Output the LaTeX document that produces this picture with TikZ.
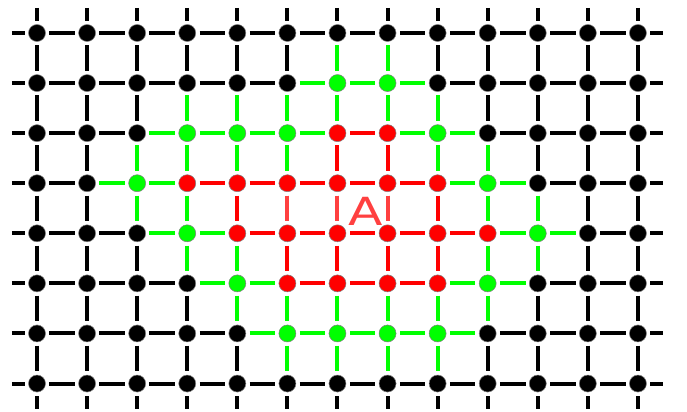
\documentclass[tikz,border=0pt]{standalone}
\usepackage{fontspec}
\newfontfamily\labelfont{DejaVu Sans}
\definecolor{lvl0}{RGB}{0,0,0}
\definecolor{lvl1}{RGB}{0,255,0}
\definecolor{lvl2}{RGB}{255,0,0}
\definecolor{lightred}{RGB}{255,64,64}
% level of every site, row by row (0 black, 1 green, 2 red)
\def\levels{{0,0,0,0,0,0,0,0,0,0,0,0,0,
             0,0,0,0,0,0,1,1,0,0,0,0,0,
             0,0,0,1,1,1,2,2,1,0,0,0,0,
             0,0,1,2,2,2,2,2,2,1,0,0,0,
             0,0,0,1,2,2,2,2,2,2,1,0,0,
             0,0,0,0,1,2,2,2,2,1,0,0,0,
             0,0,0,0,0,1,1,1,1,0,0,0,0,
             0,0,0,0,0,0,0,0,0,0,0,0,0}}
\tikzset{
  site/.style={circle,draw=gray,line width=0.3pt,minimum size=0.34cm,inner sep=0pt},
  link/.style={line width=2.3pt,shorten <=0.07cm,shorten >=0.07cm},
  stub/.style={link,shorten <=0pt}
}
\begin{document}
\begin{tikzpicture}
  \useasboundingbox (-0.739,0.659) rectangle (12.98,-7.564);
  % sites
  \foreach \r in {0,...,7}
    \foreach \c in {0,...,12}{
      \pgfmathtruncatemacro{\lv}{\levels[13*\r+\c]}
      \node[site,fill=lvl\lv] (n-\c-\r) at (\c,-\r) {};
    }
  % horizontal links
  \foreach \r in {0,...,7}
    \foreach \c in {0,...,11}{
      \pgfmathtruncatemacro{\nx}{\c+1}
      \pgfmathtruncatemacro{\la}{\levels[13*\r+\c]}
      \pgfmathtruncatemacro{\lb}{\levels[13*\r+\c+1]}
      \ifnum\la=\lb \edef\lc{\la}\else \def\lc{1}\fi
      \draw[link,lvl\lc] (n-\c-\r) -- (n-\nx-\r);
    }
  % vertical links
  \foreach \c in {0,...,12}
    \foreach \r in {0,...,6}{
      \pgfmathtruncatemacro{\ny}{\r+1}
      \pgfmathtruncatemacro{\la}{\levels[13*\r+\c]}
      \pgfmathtruncatemacro{\lb}{\levels[13*\r+13+\c]}
      \ifnum\la=\lb \edef\lc{\la}\else \def\lc{1}\fi
      \draw[link,lvl\lc] (n-\c-\r) -- (n-\c-\ny);
    }
  % half links at the border
  \foreach \r in {0,...,7}{
    \coordinate (w-\r) at (-0.5,-\r);
    \coordinate (e-\r) at (12.5,-\r);
    \draw[stub] (w-\r) -- (n-0-\r);
    \draw[stub] (e-\r) -- (n-12-\r);
  }
  \foreach \c in {0,...,12}{
    \coordinate (t-\c) at (\c,0.5);
    \coordinate (b-\c) at (\c,-7.5);
    \draw[stub] (t-\c) -- (n-\c-0);
    \draw[stub] (b-\c) -- (n-\c-7);
  }
  % links of A
  \foreach \c in {5,6,7}
    \draw[link,lightred] (n-\c-3) -- (n-\c-4);
  \node[text=lightred,font=\labelfont\fontsize{22}{22}\selectfont,xscale=1.3,inner sep=0pt] (lblA) at (6.565,-3.567) {A};
\end{tikzpicture}
\end{document}
